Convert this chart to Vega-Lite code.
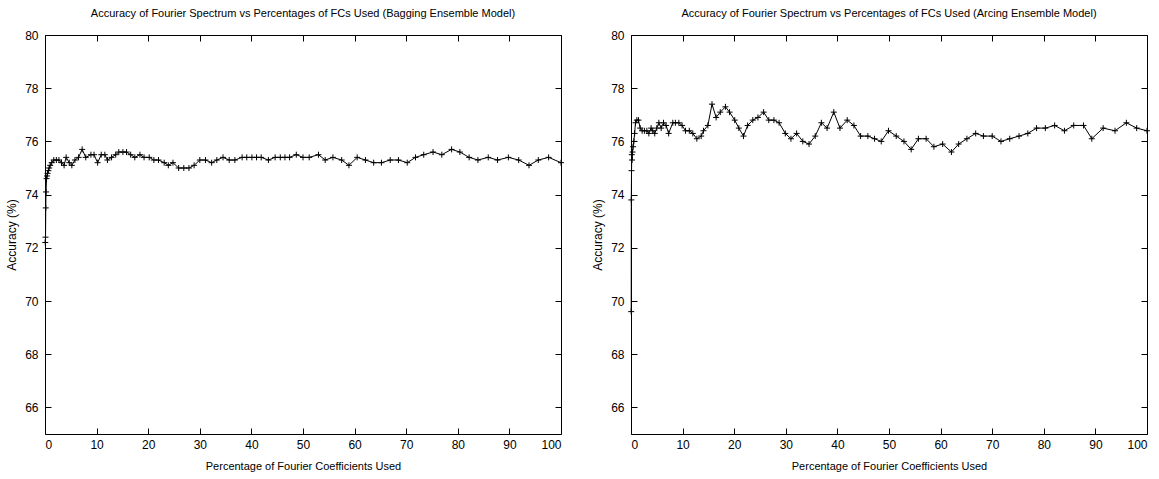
{
  "$schema": "https://vega.github.io/schema/vega-lite/v6.json",
  "autosize": {"type": "pad"},
  "padding": {"left": 5, "top": 7, "right": 12, "bottom": 6},
  "background": "white",
  "datasets": {
    "bagging": [
      {"pct": 0.05, "acc": 72.2}, {"pct": 0.1, "acc": 72.4}, {"pct": 0.15, "acc": 73.5}, {"pct": 0.2, "acc": 74.1},
      {"pct": 0.3, "acc": 74.6}, {"pct": 0.4, "acc": 74.7}, {"pct": 0.5, "acc": 74.8}, {"pct": 0.65, "acc": 74.9},
      {"pct": 0.8, "acc": 75.0}, {"pct": 1.0, "acc": 75.1}, {"pct": 1.3, "acc": 75.2}, {"pct": 1.7, "acc": 75.3},
      {"pct": 2.2, "acc": 75.3}, {"pct": 2.7, "acc": 75.3}, {"pct": 3.2, "acc": 75.2}, {"pct": 3.7, "acc": 75.1},
      {"pct": 4.1, "acc": 75.4}, {"pct": 4.7, "acc": 75.2}, {"pct": 5.2, "acc": 75.1}, {"pct": 5.8, "acc": 75.3},
      {"pct": 6.5, "acc": 75.4}, {"pct": 7.2, "acc": 75.7}, {"pct": 7.9, "acc": 75.4}, {"pct": 8.9, "acc": 75.5},
      {"pct": 9.5, "acc": 75.5}, {"pct": 10.2, "acc": 75.2}, {"pct": 10.9, "acc": 75.5}, {"pct": 11.6, "acc": 75.5},
      {"pct": 12.1, "acc": 75.3}, {"pct": 12.9, "acc": 75.4}, {"pct": 13.7, "acc": 75.5}, {"pct": 14.3, "acc": 75.6},
      {"pct": 15.1, "acc": 75.6}, {"pct": 15.8, "acc": 75.6}, {"pct": 16.6, "acc": 75.5}, {"pct": 17.4, "acc": 75.4},
      {"pct": 18.4, "acc": 75.5}, {"pct": 19.2, "acc": 75.4}, {"pct": 20.2, "acc": 75.4}, {"pct": 21.1, "acc": 75.3},
      {"pct": 22.0, "acc": 75.3}, {"pct": 23.1, "acc": 75.2}, {"pct": 23.9, "acc": 75.1}, {"pct": 24.8, "acc": 75.2},
      {"pct": 25.9, "acc": 75.0}, {"pct": 26.9, "acc": 75.0}, {"pct": 27.9, "acc": 75.0}, {"pct": 28.9, "acc": 75.1},
      {"pct": 30.0, "acc": 75.3}, {"pct": 31.1, "acc": 75.3}, {"pct": 32.3, "acc": 75.2}, {"pct": 33.3, "acc": 75.3},
      {"pct": 34.5, "acc": 75.4}, {"pct": 35.7, "acc": 75.3}, {"pct": 36.8, "acc": 75.3}, {"pct": 38.2, "acc": 75.4},
      {"pct": 39.1, "acc": 75.4}, {"pct": 40.1, "acc": 75.4}, {"pct": 41.0, "acc": 75.4}, {"pct": 41.9, "acc": 75.4},
      {"pct": 43.3, "acc": 75.3}, {"pct": 44.6, "acc": 75.4}, {"pct": 45.6, "acc": 75.4}, {"pct": 46.5, "acc": 75.4},
      {"pct": 47.4, "acc": 75.4}, {"pct": 48.7, "acc": 75.5}, {"pct": 50.0, "acc": 75.4}, {"pct": 51.2, "acc": 75.4},
      {"pct": 53.0, "acc": 75.5}, {"pct": 54.3, "acc": 75.3}, {"pct": 55.8, "acc": 75.4}, {"pct": 57.5, "acc": 75.3},
      {"pct": 58.9, "acc": 75.1}, {"pct": 60.5, "acc": 75.4}, {"pct": 62.1, "acc": 75.3}, {"pct": 63.7, "acc": 75.2},
      {"pct": 65.2, "acc": 75.2}, {"pct": 66.9, "acc": 75.3}, {"pct": 68.5, "acc": 75.3}, {"pct": 70.2, "acc": 75.2},
      {"pct": 71.8, "acc": 75.4}, {"pct": 73.4, "acc": 75.5}, {"pct": 75.2, "acc": 75.6}, {"pct": 76.9, "acc": 75.5},
      {"pct": 78.8, "acc": 75.7}, {"pct": 80.4, "acc": 75.6}, {"pct": 82.2, "acc": 75.4}, {"pct": 83.9, "acc": 75.3},
      {"pct": 85.9, "acc": 75.4}, {"pct": 87.7, "acc": 75.3}, {"pct": 89.8, "acc": 75.4}, {"pct": 91.8, "acc": 75.3},
      {"pct": 93.8, "acc": 75.1}, {"pct": 95.6, "acc": 75.3}, {"pct": 97.6, "acc": 75.4}, {"pct": 100, "acc": 75.2}
    ],
    "arcing": [
      {"pct": 0.04, "acc": 69.6}, {"pct": 0.06, "acc": 73.8}, {"pct": 0.1, "acc": 74.9}, {"pct": 0.15, "acc": 75.5},
      {"pct": 0.2, "acc": 75.3}, {"pct": 0.3, "acc": 75.6}, {"pct": 0.4, "acc": 75.8}, {"pct": 0.55, "acc": 76.0},
      {"pct": 0.7, "acc": 76.3}, {"pct": 0.87, "acc": 76.7}, {"pct": 1.13, "acc": 76.8}, {"pct": 1.45, "acc": 76.8},
      {"pct": 1.78, "acc": 76.5}, {"pct": 2.16, "acc": 76.4}, {"pct": 2.6, "acc": 76.4}, {"pct": 3.07, "acc": 76.4},
      {"pct": 3.46, "acc": 76.3}, {"pct": 3.9, "acc": 76.5}, {"pct": 4.2, "acc": 76.4}, {"pct": 4.6, "acc": 76.3},
      {"pct": 5.0, "acc": 76.5}, {"pct": 5.4, "acc": 76.7}, {"pct": 5.85, "acc": 76.5}, {"pct": 6.3, "acc": 76.7},
      {"pct": 6.8, "acc": 76.6}, {"pct": 7.3, "acc": 76.3}, {"pct": 8.1, "acc": 76.7}, {"pct": 8.6, "acc": 76.7},
      {"pct": 9.27, "acc": 76.7}, {"pct": 9.9, "acc": 76.6}, {"pct": 10.56, "acc": 76.4}, {"pct": 11.3, "acc": 76.4},
      {"pct": 11.98, "acc": 76.3}, {"pct": 12.76, "acc": 76.1}, {"pct": 13.6, "acc": 76.2}, {"pct": 14.05, "acc": 76.4},
      {"pct": 14.9, "acc": 76.6}, {"pct": 15.7, "acc": 77.4}, {"pct": 16.5, "acc": 76.9}, {"pct": 17.3, "acc": 77.1},
      {"pct": 18.3, "acc": 77.3}, {"pct": 19.1, "acc": 77.1}, {"pct": 20.1, "acc": 76.8}, {"pct": 20.9, "acc": 76.5},
      {"pct": 21.8, "acc": 76.2}, {"pct": 22.6, "acc": 76.6}, {"pct": 23.6, "acc": 76.8}, {"pct": 24.6, "acc": 76.9},
      {"pct": 25.7, "acc": 77.1}, {"pct": 26.7, "acc": 76.8}, {"pct": 27.7, "acc": 76.8}, {"pct": 28.7, "acc": 76.7},
      {"pct": 29.9, "acc": 76.3}, {"pct": 31.0, "acc": 76.1}, {"pct": 32.1, "acc": 76.3}, {"pct": 33.3, "acc": 76.0},
      {"pct": 34.5, "acc": 75.9}, {"pct": 35.7, "acc": 76.2}, {"pct": 36.9, "acc": 76.7}, {"pct": 38.0, "acc": 76.5},
      {"pct": 39.3, "acc": 77.1}, {"pct": 40.5, "acc": 76.5}, {"pct": 41.9, "acc": 76.8}, {"pct": 43.2, "acc": 76.6},
      {"pct": 44.5, "acc": 76.2}, {"pct": 45.9, "acc": 76.2}, {"pct": 47.2, "acc": 76.1}, {"pct": 48.5, "acc": 76.0},
      {"pct": 49.9, "acc": 76.4}, {"pct": 51.4, "acc": 76.2}, {"pct": 52.9, "acc": 76.0}, {"pct": 54.3, "acc": 75.7},
      {"pct": 55.7, "acc": 76.1}, {"pct": 57.2, "acc": 76.1}, {"pct": 58.7, "acc": 75.8}, {"pct": 60.4, "acc": 75.9},
      {"pct": 62.1, "acc": 75.6}, {"pct": 63.5, "acc": 75.9}, {"pct": 65.1, "acc": 76.1}, {"pct": 66.8, "acc": 76.3},
      {"pct": 68.3, "acc": 76.2}, {"pct": 70.0, "acc": 76.2}, {"pct": 71.7, "acc": 76.0}, {"pct": 73.4, "acc": 76.1},
      {"pct": 75.2, "acc": 76.2}, {"pct": 76.9, "acc": 76.3}, {"pct": 78.6, "acc": 76.5}, {"pct": 80.3, "acc": 76.5},
      {"pct": 82.1, "acc": 76.6}, {"pct": 84.0, "acc": 76.4}, {"pct": 85.8, "acc": 76.6}, {"pct": 87.7, "acc": 76.6},
      {"pct": 89.3, "acc": 76.1}, {"pct": 91.5, "acc": 76.5}, {"pct": 93.8, "acc": 76.4}, {"pct": 96.0, "acc": 76.7},
      {"pct": 98.0, "acc": 76.5}, {"pct": 100, "acc": 76.4}
    ]
  },
  "hconcat": [
    {
      "title": "Accuracy of Fourier Spectrum vs Percentages of FCs Used (Bagging Ensemble Model)",
      "width": 516,
      "height": 399,
      "data": {"name": "bagging"},
      "resolve": {"axis": {"x": "independent", "y": "independent"}},
      "layer": [
        {
          "mark": {"type": "line", "color": "black", "strokeWidth": 1},
          "encoding": {
            "x": {"field": "pct", "type": "quantitative", "scale": {"domain": [0, 100], "nice": false},
                  "axis": {"orient": "bottom", "title": "Percentage of Fourier Coefficients Used", "values": [0, 10, 20, 30, 40, 50, 60, 70, 80, 90, 100]}},
            "y": {"field": "acc", "type": "quantitative", "scale": {"domain": [65, 80], "nice": false, "zero": false},
                  "axis": {"orient": "left", "title": "Accuracy (%)", "values": [66, 68, 70, 72, 74, 76, 78, 80]}}
          }
        },
        {
          "mark": {"type": "point", "shape": "M-1,0L1,0M0,-1L0,1", "size": 36, "filled": false, "color": "black", "strokeWidth": 1, "opacity": 1},
          "encoding": {
            "x": {"field": "pct", "type": "quantitative",
                  "axis": {"orient": "top", "labels": false, "title": null, "values": [0, 10, 20, 30, 40, 50, 60, 70, 80, 90, 100]}},
            "y": {"field": "acc", "type": "quantitative",
                  "axis": {"orient": "right", "labels": false, "title": null, "values": [66, 68, 70, 72, 74, 76, 78, 80]}}
          }
        }
      ]
    },
    {
      "title": "Accuracy of Fourier Spectrum vs Percentages of FCs Used (Arcing Ensemble Model)",
      "width": 516,
      "height": 399,
      "data": {"name": "arcing"},
      "resolve": {"axis": {"x": "independent", "y": "independent"}},
      "layer": [
        {
          "mark": {"type": "line", "color": "black", "strokeWidth": 1},
          "encoding": {
            "x": {"field": "pct", "type": "quantitative", "scale": {"domain": [0, 100], "nice": false},
                  "axis": {"orient": "bottom", "title": "Percentage of Fourier Coefficients Used", "values": [0, 10, 20, 30, 40, 50, 60, 70, 80, 90, 100]}},
            "y": {"field": "acc", "type": "quantitative", "scale": {"domain": [65, 80], "nice": false, "zero": false},
                  "axis": {"orient": "left", "title": "Accuracy (%)", "values": [66, 68, 70, 72, 74, 76, 78, 80]}}
          }
        },
        {
          "mark": {"type": "point", "shape": "M-1,0L1,0M0,-1L0,1", "size": 36, "filled": false, "color": "black", "strokeWidth": 1, "opacity": 1},
          "encoding": {
            "x": {"field": "pct", "type": "quantitative",
                  "axis": {"orient": "top", "labels": false, "title": null, "values": [0, 10, 20, 30, 40, 50, 60, 70, 80, 90, 100]}},
            "y": {"field": "acc", "type": "quantitative",
                  "axis": {"orient": "right", "labels": false, "title": null, "values": [66, 68, 70, 72, 74, 76, 78, 80]}}
          }
        }
      ]
    }
  ],
  "bounds": "flush",
  "spacing": 70,
  "config": {
    "font": "Liberation Sans",
    "view": {"stroke": "black", "strokeWidth": 1},
    "axis": {
      "domain": false, "grid": false, "tickColor": "black", "tickSize": -6, "tickWidth": 1,
      "labelColor": "black", "labelFont": "Liberation Sans", "labelFontSize": 12,
      "titleColor": "black", "titleFont": "Liberation Sans", "titleFontSize": 11, "titleFontWeight": "normal"
    },
    "axisX": {"labelPadding": 11, "titlePadding": 10},
    "axisY": {"labelPadding": 13, "titlePadding": 6, "titleFontSize": 12},
    "title": {"fontSize": 11, "fontWeight": "normal", "color": "black", "font": "Liberation Sans", "offset": 10}
  }
}
